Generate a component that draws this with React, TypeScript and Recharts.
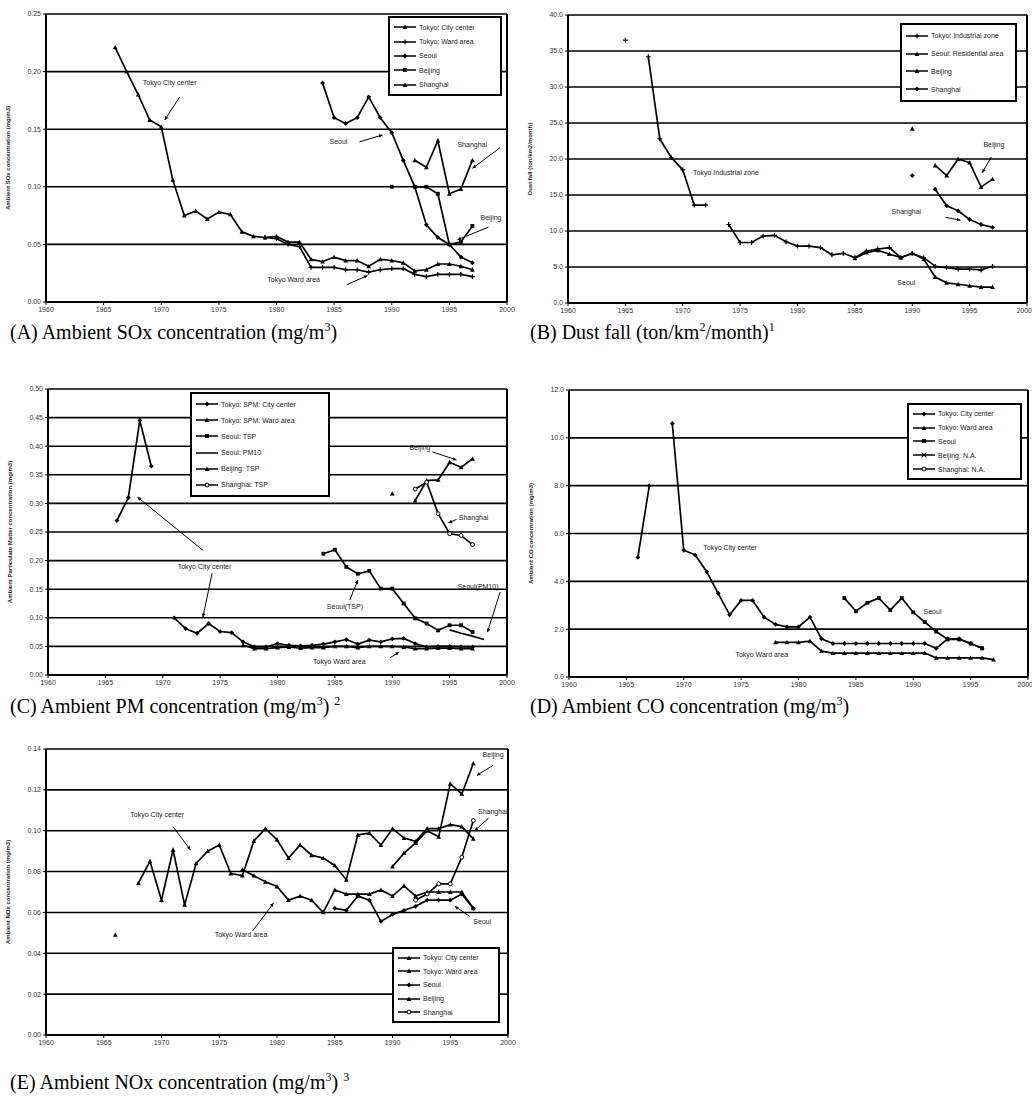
import React from 'react';
import { LineChart, Line, XAxis, YAxis, CartesianGrid, ReferenceLine, ReferenceDot } from 'recharts';

type Pt = [number, number | null];
type Note = [string, number, number]; // text, year, value
type Arrow = [number, number, number, number]; // from year/value to year/value

const YEARS = [1960, 1965, 1970, 1975, 1980, 1985, 1990, 1995, 2000];

// (A) SOx
const A_TOKYO_CENTER: Pt[] = [[1966, 0.221], [1967, 0.2], [1968, 0.18], [1969, 0.158], [1970, 0.152], [1971, 0.106], [1972, 0.075], [1973, 0.079], [1974, 0.072], [1975, 0.078], [1976, 0.076], [1977, 0.061], [1978, 0.057], [1979, 0.056], [1980, 0.057], [1981, 0.052], [1982, 0.052], [1983, 0.037], [1984, 0.035], [1985, 0.039], [1986, 0.036], [1987, 0.036], [1988, 0.031], [1989, 0.037], [1990, 0.036], [1991, 0.034], [1992, 0.027], [1993, 0.028], [1994, 0.033], [1995, 0.033], [1996, 0.031], [1997, 0.028]];
const A_TOKYO_WARD: Pt[] = [[1979, 0.056], [1980, 0.055], [1981, 0.05], [1982, 0.048], [1983, 0.03], [1984, 0.03], [1985, 0.03], [1986, 0.028], [1987, 0.028], [1988, 0.026], [1989, 0.028], [1990, 0.029], [1991, 0.029], [1992, 0.024], [1993, 0.022], [1994, 0.024], [1995, 0.024], [1996, 0.024], [1997, 0.022]];
const A_SEOUL: Pt[] = [[1984, 0.19], [1985, 0.16], [1986, 0.155], [1987, 0.16], [1988, 0.178], [1989, 0.16], [1990, 0.147], [1991, 0.123], [1992, 0.1], [1993, 0.067], [1994, 0.056], [1995, 0.05], [1996, 0.039], [1997, 0.034]];
const A_BEIJING: Pt[] = [[1990, 0.1], [1991, null], [1992, 0.1], [1993, 0.1], [1994, 0.094], [1995, 0.05], [1996, 0.052], [1997, 0.066]];
const A_SHANGHAI: Pt[] = [[1992, 0.123], [1993, 0.117], [1994, 0.14], [1995, 0.094], [1996, 0.098], [1997, 0.123]];
const A_TICKS = [0, 0.05, 0.1, 0.15, 0.2, 0.25];
const A_NAMES = ['Tokyo: City center', 'Tokyo: Ward area', 'Seoul', 'Beijing', 'Shanghai'];
const A_NOTES: Note[] = [['Tokyo City center', 1968.4, 0.19], ['Seoul', 1984.6, 0.139], ['Shanghai', 1995.7, 0.136], ['Beijing', 1997.7, 0.073], ['Tokyo Ward area', 1979.2, 0.019]];
const A_ARROWS: Arrow[] = [[1971.6, 0.178, 1970.3, 0.158], [1987.2, 0.139, 1989.2, 0.145], [1999.4, 0.134, 1997.0, 0.116], [1998.4, 0.065, 1995.7, 0.054], [1986.1, 0.015, 1987.9, 0.023]];

// (B) Dust fall
const B_TOKYO_IND: Pt[] = [[1965, 36.5], [1966, null], [1967, 34.2], [1968, 22.8], [1969, 20.2], [1970, 18.5], [1971, 13.6], [1972, 13.6], [1973, null], [1974, 10.9], [1975, 8.4], [1976, 8.4], [1977, 9.3], [1978, 9.4], [1979, 8.5], [1980, 7.9], [1981, 7.9], [1982, 7.7], [1983, 6.7], [1984, 6.9], [1985, 6.3], [1986, 7.2], [1987, 7.5], [1988, 7.7], [1989, 6.3], [1990, 6.9], [1991, 6.3], [1992, 5.1], [1993, 4.9], [1994, 4.7], [1995, 4.7], [1996, 4.6], [1997, 5.1]];
const B_SEOUL: Pt[] = [[1985, 6.2], [1986, 7.0], [1987, 7.3], [1988, 6.8], [1989, 6.3], [1990, 6.9], [1991, 6.1], [1992, 3.6], [1993, 2.8], [1994, 2.6], [1995, 2.4], [1996, 2.2], [1997, 2.2]];
const B_BEIJING: Pt[] = [[1990, 24.2], [1991, null], [1992, 19.1], [1993, 17.7], [1994, 20.0], [1995, 19.5], [1996, 16.1], [1997, 17.2]];
const B_SHANGHAI: Pt[] = [[1990, 17.7], [1991, null], [1992, 15.8], [1993, 13.5], [1994, 12.8], [1995, 11.6], [1996, 10.9], [1997, 10.5]];
const B_TICKS = [0, 5, 10, 15, 20, 25, 30, 35, 40];
const B_NAMES = ['Tokyo: Industrial zone', 'Seoul: Residential area', 'Beijing', 'Shanghai'];
const B_NOTES: Note[] = [['Tokyo Industrial zone', 1970.9, 18.0], ['Beijing', 1996.2, 21.9], ['Shanghai', 1988.2, 12.6], ['Seoul', 1988.7, 2.8]];
const B_ARROWS: Arrow[] = [[1996.9, 20.3, 1996.1, 18.1], [1992.9, 11.9, 1994.2, 11.5]];

// (C) PM
const C_TOKYO_CENTER: Pt[] = [[1966, 0.27], [1967, 0.31], [1968, 0.445], [1969, 0.365], [1970, null], [1971, 0.1], [1972, 0.081], [1973, 0.073], [1974, 0.09], [1975, 0.076], [1976, 0.074], [1977, 0.058], [1978, 0.049], [1979, 0.049], [1980, 0.055], [1981, 0.052], [1982, 0.051], [1983, 0.052], [1984, 0.054], [1985, 0.058], [1986, 0.062], [1987, 0.054], [1988, 0.061], [1989, 0.058], [1990, 0.063], [1991, 0.064], [1992, 0.055], [1993, 0.049], [1994, 0.05], [1995, 0.05], [1996, 0.049], [1997, 0.049]];
const C_TOKYO_WARD: Pt[] = [[1977, 0.052], [1978, 0.046], [1979, 0.046], [1980, 0.048], [1981, 0.049], [1982, 0.047], [1983, 0.048], [1984, 0.048], [1985, 0.05], [1986, 0.05], [1987, 0.048], [1988, 0.05], [1989, 0.05], [1990, 0.05], [1991, 0.049], [1992, 0.046], [1993, 0.046], [1994, 0.047], [1995, 0.047], [1996, 0.046], [1997, 0.046]];
const C_SEOUL_TSP: Pt[] = [[1984, 0.212], [1985, 0.219], [1986, 0.189], [1987, 0.177], [1988, 0.182], [1989, 0.151], [1990, 0.151], [1991, 0.125], [1992, 0.099], [1993, 0.09], [1994, 0.078], [1995, 0.087], [1996, 0.087], [1997, 0.075]];
const C_SEOUL_PM10: Pt[] = [[1995, 0.079], [1996, 0.073], [1997, 0.068], [1998, 0.062]];
const C_BEIJING_TSP: Pt[] = [[1990, 0.317], [1991, null], [1992, 0.305], [1993, 0.34], [1994, 0.341], [1995, 0.372], [1996, 0.363], [1997, 0.378]];
const C_SHANGHAI_TSP: Pt[] = [[1992, 0.325], [1993, 0.337], [1994, 0.282], [1995, 0.247], [1996, 0.244], [1997, 0.228]];
const C_TICKS = [0, 0.05, 0.1, 0.15, 0.2, 0.25, 0.3, 0.35, 0.4, 0.45, 0.5];
const C_NAMES = ['Tokyo: SPM: City center', 'Tokyo: SPM: Ward area', 'Seoul: TSP', 'Seoul: PM10', 'Beijing: TSP', 'Shanghai: TSP'];
const C_NOTES: Note[] = [['Tokyo City center', 1971.3, 0.189], ['Seoul(TSP)', 1984.3, 0.119], ['Seoul(PM10)', 1995.7, 0.154], ['Beijing', 1991.5, 0.397], ['Shanghai', 1995.8, 0.274], ['Tokyo Ward area', 1983.1, 0.023]];
const C_ARROWS: Arrow[] = [[1973.5, 0.218, 1967.8, 0.311], [1974.3, 0.178, 1973.5, 0.101], [1986.3, 0.131, 1987.0, 0.166], [1999.4, 0.145, 1998.3, 0.075], [1993.5, 0.39, 1995.6, 0.376], [1995.6, 0.272, 1994.9, 0.266], [1989.8, 0.03, 1990.6, 0.04]];

// (D) CO
const D_TOKYO_CENTER: Pt[] = [[1966, 5.0], [1967, 8.0], [1968, null], [1969, 10.6], [1970, 5.3], [1971, 5.1], [1972, 4.4], [1973, 3.5], [1974, 2.6], [1975, 3.2], [1976, 3.2], [1977, 2.5], [1978, 2.2], [1979, 2.1], [1980, 2.1], [1981, 2.5], [1982, 1.6], [1983, 1.4], [1984, 1.4], [1985, 1.4], [1986, 1.4], [1987, 1.4], [1988, 1.4], [1989, 1.4], [1990, 1.4], [1991, 1.4], [1992, 1.2], [1993, 1.6], [1994, 1.6], [1995, 1.4], [1996, 1.2]];
const D_TOKYO_WARD: Pt[] = [[1978, 1.45], [1979, 1.45], [1980, 1.45], [1981, 1.5], [1982, 1.08], [1983, 1.0], [1984, 1.0], [1985, 1.0], [1986, 1.0], [1987, 1.0], [1988, 1.0], [1989, 1.0], [1990, 1.0], [1991, 1.0], [1992, 0.8], [1993, 0.8], [1994, 0.8], [1995, 0.8], [1996, 0.8], [1997, 0.73]];
const D_SEOUL: Pt[] = [[1984, 3.3], [1985, 2.75], [1986, 3.1], [1987, 3.3], [1988, 2.8], [1989, 3.3], [1990, 2.7], [1991, 2.3], [1992, 1.9], [1993, 1.57], [1994, 1.57], [1995, 1.4], [1996, 1.2]];
const D_BEIJING: Pt[] = [];
const D_SHANGHAI: Pt[] = [];
const D_TICKS = [0, 2, 4, 6, 8, 10, 12];
const D_NAMES = ['Tokyo: City center', 'Tokyo: Ward area', 'Seoul', 'Beijing: N.A.', 'Shanghai: N.A.'];
const D_NOTES: Note[] = [['Tokyo City center', 1971.7, 5.4], ['Seoul', 1990.9, 2.7], ['Tokyo Ward area', 1974.5, 0.9]];
const D_ARROWS: Arrow[] = [];

// (E) NOx
const E_TOKYO_CENTER: Pt[] = [[1966, 0.049], [1967, null], [1968, 0.0743], [1969, 0.085], [1970, 0.066], [1971, 0.0907], [1972, 0.0637], [1973, 0.084], [1974, 0.09], [1975, 0.093], [1976, 0.079], [1977, 0.078], [1978, 0.095], [1979, 0.101], [1980, 0.0956], [1981, 0.0866], [1982, 0.093], [1983, 0.088], [1984, 0.0866], [1985, 0.083], [1986, 0.076], [1987, 0.098], [1988, 0.0988], [1989, 0.093], [1990, 0.101], [1991, 0.0964], [1992, 0.0948], [1993, 0.101], [1994, 0.101], [1995, 0.103], [1996, 0.102], [1997, 0.096]];
const E_TOKYO_WARD: Pt[] = [[1977, 0.081], [1978, 0.078], [1979, 0.075], [1980, 0.0727], [1981, 0.066], [1982, 0.068], [1983, 0.066], [1984, 0.06], [1985, 0.071], [1986, 0.069], [1987, 0.069], [1988, 0.069], [1989, 0.071], [1990, 0.068], [1991, 0.073], [1992, 0.068], [1993, 0.07], [1994, 0.07], [1995, 0.07], [1996, 0.07], [1997, 0.062]];
const E_SEOUL: Pt[] = [[1985, 0.062], [1986, 0.061], [1987, 0.068], [1988, 0.066], [1989, 0.0556], [1990, 0.059], [1991, 0.061], [1992, 0.063], [1993, 0.066], [1994, 0.066], [1995, 0.066], [1996, 0.069], [1997, 0.062]];
const E_BEIJING: Pt[] = [[1990, 0.0825], [1991, 0.089], [1992, 0.094], [1993, 0.1], [1994, 0.097], [1995, 0.123], [1996, 0.118], [1997, 0.133]];
const E_SHANGHAI: Pt[] = [[1992, 0.066], [1993, 0.069], [1994, 0.074], [1995, 0.074], [1996, 0.087], [1997, 0.105]];
const E_TICKS = [0, 0.02, 0.04, 0.06, 0.08, 0.1, 0.12, 0.14];
const E_NAMES = ['Tokyo: City center', 'Tokyo: Ward area', 'Seoul', 'Beijing', 'Shanghai'];
const E_NOTES: Note[] = [['Tokyo City center', 1967.3, 0.1077], ['Tokyo Ward area', 1974.6, 0.049], ['Beijing', 1997.8, 0.137], ['Shanghai', 1997.4, 0.109], ['Seoul', 1997.0, 0.055]];
const E_ARROWS: Arrow[] = [[1971, 0.102, 1972.5, 0.0906], [1977.9, 0.051, 1979.7, 0.0646], [1998.7, 0.132, 1997.3, 0.127], [1998.3, 0.106, 1997.1, 0.1], [1996.7, 0.058, 1995.4, 0.063]];

const SANS = '"Liberation Sans", Arial, sans-serif';
const SERIF = '"Liberation Serif", "Times New Roman", serif';

// merge per-series [year, value] lists into rows keyed s0, s1, ...
function merge(series: Pt[][]) {
  const rows = new Map<number, any>();
  series.forEach((s, i) =>
    s.forEach(([yr, v]) => {
      const row = rows.get(yr) ?? { year: yr };
      row['s' + i] = v;
      rows.set(yr, row);
    })
  );
  return [...rows.values()].sort((a, b) => a.year - b.year);
}

function Marker({ kind, cx, cy, s = 2.4 }: { kind: string; cx: number; cy: number; s?: number }) {
  switch (kind) {
    case 'triangle':
      return <polygon points={`${cx},${cy - s} ${cx + s},${cy + s * 0.8} ${cx - s},${cy + s * 0.8}`} fill="#000" />;
    case 'square':
      return <rect x={cx - s * 0.8} y={cy - s * 0.8} width={s * 1.6} height={s * 1.6} fill="#000" />;
    case 'diamond':
      return <polygon points={`${cx},${cy - s} ${cx + s},${cy} ${cx},${cy + s} ${cx - s},${cy}`} fill="#000" />;
    case 'circle':
      return <circle cx={cx} cy={cy} r={s * 0.8} fill="#fff" stroke="#000" strokeWidth={1} />;
    case 'cross':
      return <path d={`M${cx - s},${cy}H${cx + s}M${cx},${cy - s}V${cy + s}`} stroke="#000" strokeWidth={1.2} />;
    case 'x':
      return <path d={`M${cx - s},${cy - s}L${cx + s},${cy + s}M${cx + s},${cy - s}L${cx - s},${cy + s}`} stroke="#000" strokeWidth={1.1} />;
    default:
      return null;
  }
}

const ArrowShape = (p: any) => {
  const { x1, y1, x2, y2 } = p;
  if ([x1, y1, x2, y2].some((v) => v == null || isNaN(v))) return null;
  const a = Math.atan2(y2 - y1, x2 - x1);
  const h = 4;
  const ax = x2 - h * Math.cos(a - 0.45), ay = y2 - h * Math.sin(a - 0.45);
  const bx = x2 - h * Math.cos(a + 0.45), by = y2 - h * Math.sin(a + 0.45);
  return (
    <g>
      <line x1={x1} y1={y1} x2={x2} y2={y2} stroke="#000" strokeWidth={1} />
      <polygon points={`${x2},${y2} ${ax},${ay} ${bx},${by}`} fill="#000" />
    </g>
  );
};

interface PanelProps {
  left: number; top: number; plotW: number; plotH: number; right?: number;
  ticks: number[]; digits: number; yLabel: string;
  series: Pt[][]; marks: string[]; notes: Note[]; arrows: Arrow[];
}

function Panel({ left, top, plotW, plotH, right = 10, ticks, digits, yLabel, series, marks, notes, arrows }: PanelProps) {
  const YW = 46, XH = 20, MT = 10;
  const data = merge(series);
  const yMax = ticks[ticks.length - 1];
  const xTick = (p: any) => {
    // the page edge cuts the last label of the right-hand panels, so end-anchor it there
    const edge = right < 8 && p.payload.value === 2000;
    return (
      <text x={p.x + (edge ? 5 : 0)} y={p.y} dy="0.71em" textAnchor={edge ? 'end' : 'middle'} fontSize={7} fill="#333">
        {p.payload.value}
      </text>
    );
  };
  return (
    <div style={{ position: 'absolute', left: left - YW, top: top - MT }}>
      <LineChart width={YW + plotW + right} height={MT + plotH + XH} data={data}
        margin={{ top: MT, right, bottom: 0, left: 0 }} style={{ fontFamily: SANS }}>
        <CartesianGrid vertical={false} stroke="#000" strokeWidth={1.6} />
        <XAxis dataKey="year" type="number" domain={[1960, 2000]} ticks={YEARS} interval={0} height={XH}
          tick={xTick} tickSize={3} tickLine={{ stroke: '#000' }}
          axisLine={{ stroke: '#000', strokeWidth: 2 }} allowDataOverflow />
        <YAxis width={YW} domain={[0, yMax]} ticks={ticks} interval={0} tickFormatter={(v: number) => v.toFixed(digits)}
          tick={{ fontSize: 7, fill: '#333' }} tickSize={3} tickLine={{ stroke: '#000' }}
          axisLine={{ stroke: '#000', strokeWidth: 2 }}
          label={{ value: yLabel, angle: -90, position: 'insideLeft', offset: 8,
            style: { textAnchor: 'middle', fontSize: 6, fontWeight: 700, fill: '#222' } }} />
        <ReferenceLine x={2000} stroke="#000" strokeWidth={2} ifOverflow="visible" />
        {series.map((_, i) => (
          <Line key={i} dataKey={'s' + i} type="linear" stroke="#000" strokeWidth={1.7}
            isAnimationActive={false} connectNulls={false}
            dot={(p: any) => {
              const k = p.key ?? `d${i}-${p.index}`;
              if (p.cx == null || p.cy == null || p.value == null || isNaN(p.cy)) return <g key={k} />;
              return <g key={k}><Marker kind={marks[i]} cx={p.cx} cy={p.cy} /></g>;
            }}
            activeDot={false} />
        ))}
        {arrows.map((a, i) => (
          <ReferenceLine key={'a' + i} segment={[{ x: a[0], y: a[1] }, { x: a[2], y: a[3] }]}
            ifOverflow="visible" stroke="#000" shape={ArrowShape} />
        ))}
        {notes.map(([text, x, y], i) => (
          <ReferenceDot key={'n' + i} x={x} y={y} r={0} ifOverflow="visible"
            shape={(p: any) => (
              <text x={p.cx} y={p.cy} fontSize={7} fill="#222" dominantBaseline="middle">{text}</text>
            )} />
        ))}
      </LineChart>
    </div>
  );
}

function LegendBox({ left, top, width, height, names, marks }: { left: number; top: number; width: number; height: number; names: string[]; marks: string[] }) {
  return (
    <div style={{ position: 'absolute', left, top, width, height, boxSizing: 'border-box', border: '2px solid #000',
      background: '#fff', padding: '2px 4px', fontFamily: SANS, fontSize: 7, color: '#222',
      display: 'flex', flexDirection: 'column', justifyContent: 'space-around' }}>
      {names.map((n, i) => (
        <div key={n} style={{ display: 'flex', alignItems: 'center' }}>
          <svg width={22} height={8}>
            <line x1={0} y1={4} x2={22} y2={4} stroke="#000" strokeWidth={1.5} />
            <Marker kind={marks[i]} cx={11} cy={4} />
          </svg>
          <span style={{ marginLeft: 3, whiteSpace: 'nowrap' }}>{n}</span>
        </div>
      ))}
    </div>
  );
}

const Caption = ({ left, top, children }: { left: number; top: number; children: React.ReactNode }) => (
  <div style={{ position: 'absolute', left, top, fontFamily: SERIF, fontSize: 20, whiteSpace: 'nowrap', color: '#000', lineHeight: '24px' }}>
    {children}
  </div>
);

const supStyle: React.CSSProperties = { fontSize: 12, verticalAlign: 'top', lineHeight: '14px' };

export default function App() {
  const aMarks = ['triangle', 'cross', 'diamond', 'square', 'triangle'];
  const bMarks = ['cross', 'triangle', 'triangle', 'diamond'];
  const cMarks = ['diamond', 'triangle', 'square', 'none', 'triangle', 'circle'];
  const dMarks = ['diamond', 'triangle', 'square', 'x', 'circle'];
  const eMarks = ['triangle', 'triangle', 'diamond', 'triangle', 'circle'];
  return (
    <div style={{ position: 'absolute', left: 0, top: 0, width: 1033, height: 1100, background: '#fff', overflow: 'hidden' }}>
      <Panel left={46} top={14} plotW={461} plotH={288} ticks={A_TICKS} digits={2}
        yLabel="Ambient SOx concentration (mg/m3)"
        series={[A_TOKYO_CENTER, A_TOKYO_WARD, A_SEOUL, A_BEIJING, A_SHANGHAI]} marks={aMarks}
        notes={A_NOTES} arrows={A_ARROWS} />
      <LegendBox left={388} top={16} width={114} height={80} names={A_NAMES} marks={aMarks} />
      <Caption left={10} top={320}>(A) Ambient SOx concentration (mg/m<span style={supStyle}>3</span>)</Caption>

      <Panel left={568} top={15} plotW={459} plotH={288} right={5} ticks={B_TICKS} digits={1}
        yLabel="Dust fall (ton/km2/month)"
        series={[B_TOKYO_IND, B_SEOUL, B_BEIJING, B_SHANGHAI]} marks={bMarks}
        notes={B_NOTES} arrows={B_ARROWS} />
      <LegendBox left={900} top={23} width={117} height={79} names={B_NAMES} marks={bMarks} />
      <Caption left={530} top={320}>(B) Dust fall (ton/km<span style={supStyle}>2</span>/month)<span style={supStyle}>1</span></Caption>

      <Panel left={48} top={389} plotW={459} plotH={286} ticks={C_TICKS} digits={2}
        yLabel="Ambient Particulate Matter concentration (mg/m3)"
        series={[C_TOKYO_CENTER, C_TOKYO_WARD, C_SEOUL_TSP, C_SEOUL_PM10, C_BEIJING_TSP, C_SHANGHAI_TSP]} marks={cMarks}
        notes={C_NOTES} arrows={C_ARROWS} />
      <LegendBox left={190} top={392} width={140} height={105} names={C_NAMES} marks={cMarks} />
      <Caption left={10} top={694}>(C) Ambient PM concentration (mg/m<span style={supStyle}>3</span>) <span style={supStyle}>2</span></Caption>

      <Panel left={569} top={390} plotW={459} plotH={287} right={4} ticks={D_TICKS} digits={1}
        yLabel="Ambient CO concentration (mg/m3)"
        series={[D_TOKYO_CENTER, D_TOKYO_WARD, D_SEOUL, D_BEIJING, D_SHANGHAI]} marks={dMarks}
        notes={D_NOTES} arrows={D_ARROWS} />
      <LegendBox left={907} top={403} width={115} height={77} names={D_NAMES} marks={dMarks} />
      <Caption left={530} top={694}>(D) Ambient CO concentration (mg/m<span style={supStyle}>3</span>)</Caption>

      <Panel left={46} top={749} plotW={462} plotH={286} ticks={E_TICKS} digits={2}
        yLabel="Ambient NOx concentration (mg/m3)"
        series={[E_TOKYO_CENTER, E_TOKYO_WARD, E_SEOUL, E_BEIJING, E_SHANGHAI]} marks={eMarks}
        notes={E_NOTES} arrows={E_ARROWS} />
      <LegendBox left={392} top={947} width={108} height={76} names={E_NAMES} marks={eMarks} />
      <Caption left={10} top={1070}>(E) Ambient NOx concentration (mg/m<span style={supStyle}>3</span>) <span style={supStyle}>3</span></Caption>
    </div>
  );
}
